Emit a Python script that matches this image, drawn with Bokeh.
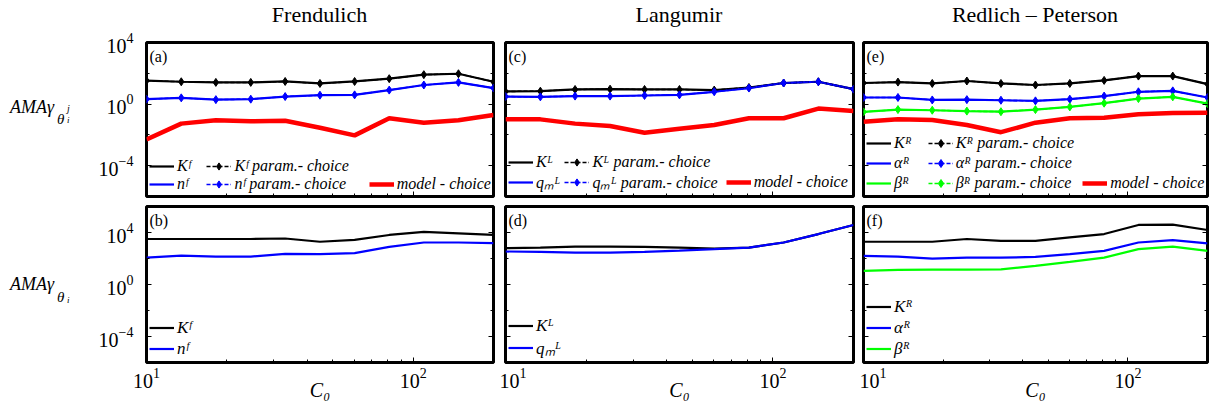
from bokeh.plotting import figure
from bokeh.models import Range1d, FixedTicker, Legend, LegendItem, Label, LogAxis, Div
from bokeh.layouts import column, row
from bokeh.embed import file_html
from bokeh.resources import INLINE

# ---------------- data ----------------
C0 = [10, 13.5, 18.2, 24.6, 33.1, 44.7, 60.3, 81.3, 109.6, 147.8, 200]

# (a) Freundlich, AMA of theta_i^j
KF_a = [33.1, 28.2, 25.7, 25.7, 29.5, 21.9, 29.5, 44.7, 81.3, 93.3, 28.2]
nF_a = [2.09, 2.54, 1.95, 2.09, 3.09, 3.80, 3.98, 8.13, 17.4, 25.7, 11.0]
KF_a_param = KF_a
nF_a_param = nF_a
model_a = [0.0051, 0.054, 0.089, 0.076, 0.083, 0.029, 0.0093, 0.12, 0.062, 0.089, 0.195]

# (c) Langmuir
KL_c = [6.61, 6.92, 8.91, 9.33, 8.91, 8.91, 8.13, 12.0, 23.4, 28.2, 9.33]
qL_c = [3.09, 2.95, 3.31, 3.31, 3.63, 3.98, 6.31, 11.0, 23.4, 28.2, 9.33]
KL_c_param = KL_c
qL_c_param = qL_c
model_c = [0.102, 0.102, 0.054, 0.038, 0.0138, 0.025, 0.044, 0.12, 0.12, 0.51, 0.36]

# (e) Redlich-Peterson
KR_e = [23.4, 26.9, 21.9, 31.6, 21.9, 17.4, 21.9, 34.7, 66.1, 66.1, 20.0]
aR_e = [2.69, 2.69, 1.86, 1.95, 1.78, 1.62, 2.09, 3.31, 6.31, 7.24, 2.69]
bR_e = [0.31, 0.44, 0.40, 0.35, 0.32, 0.44, 0.66, 1.15, 2.29, 2.95, 1.07]
KR_e_param = KR_e
aR_e_param = aR_e
bR_e_param = bR_e
model_e = [0.072, 0.102, 0.093, 0.044, 0.015, 0.062, 0.12, 0.13, 0.22, 0.26, 0.275]

# (b) Freundlich, AMA of theta_i
KF_b = [3160, 3160, 3160, 3160, 3470, 1950, 2750, 6460, 11000, 8510, 6460]
nF_b = [117, 166, 141, 141, 229, 214, 257, 794, 1700, 1700, 1550]

# (d) Langmuir
KL_d = [631, 692, 832, 832, 794, 692, 589, 692, 1700, 7590, 38000]
qL_d = [347, 324, 288, 288, 324, 407, 525, 692, 1700, 7590, 38000]

# (f) Redlich-Peterson
KR_f = [1950, 1950, 1950, 3160, 2290, 2290, 4170, 7590, 38000, 39800, 15500]
aR_f = [158, 141, 98, 117, 117, 132, 214, 389, 1700, 2630, 1450]
bR_f = [11.0, 13.2, 13.8, 13.8, 14.8, 26.9, 55.0, 117, 525, 832, 389]

TITLES = ["Frendulich", "Langumir", "Redlich \u2013 Peterson"]
TOP_TAGS = ["(a)", "(c)", "(e)"]
BOT_TAGS = ["(b)", "(d)", "(f)"]
X_TITLE = "C\u2080"

SERIF = "Liberation Serif"
BLACK, BLUE, GREEN, RED = "#000000", "#0000ff", "#00ff00", "#ff0000"

TOP_YR = (1e-6, 1e4)
BOT_YR = (1e-6, 1e6)
Y_MAJOR = [1e-4, 1, 1e4]
TOP_MINOR = [1e-6, 1e-2, 1e2]
BOT_MINOR = [1e-6, 1e-2, 1e2, 1e6]
X_MAJOR = [10, 100]
X_MINOR = [20, 30, 40, 50, 60, 70, 80, 90, 200]

TITLE_H = 28
LABEL_W = 90
LEFTS = [56, 6, 4]
RIGHTS = [6, 6, 2]
FWS = [347, 348, 344]
TOP_H = (14, 154, 5)
BOT_H = (5, 156, 43)
PADS = [(4, 5), (1, 2), (4, 2)]


def base(col, top):
    bt, fh, bb = TOP_H if top else BOT_H
    p = figure(x_axis_type="log", y_axis_type="log",
               x_range=Range1d(10, 200),
               y_range=Range1d(*(TOP_YR if top else BOT_YR)),
               frame_width=FWS[col], frame_height=fh,
               min_border_left=LEFTS[col], min_border_right=RIGHTS[col],
               min_border_top=bt, min_border_bottom=bb,
               output_backend="svg", toolbar_location=None)
    p.grid.visible = False
    p.outline_line_color = "black"
    p.outline_line_width = 3
    p.outline_line_alpha = 1.0
    p.add_layout(LogAxis(), "right")
    for ax in p.yaxis:
        ax.ticker = FixedTicker(ticks=Y_MAJOR, minor_ticks=TOP_MINOR if top else BOT_MINOR)
    for ax in p.xaxis:
        ax.ticker = FixedTicker(ticks=X_MAJOR, minor_ticks=X_MINOR)
    for ax in p.axis:
        ax.axis_line_color = None
        ax.major_tick_in = 5
        ax.major_tick_out = 0
        ax.minor_tick_in = 3
        ax.minor_tick_out = 0
        ax.major_tick_line_color = "black"
        ax.minor_tick_line_color = "black"
        ax.major_label_text_font = SERIF
        ax.major_label_text_color = "black"
        ax.major_label_text_font_size = "1px"
        ax.major_label_text_alpha = 0
        ax.major_label_standoff = 0
    if col == 0:
        ax = p.left[0]
        ax.major_label_text_font_size = "20px"
        ax.major_label_text_alpha = 1
        ax.major_label_standoff = 13
    if not top:
        ax = p.below[0]
        ax.major_label_text_font_size = "20px"
        ax.major_label_text_alpha = 1
        ax.major_label_standoff = 5
        ax.axis_label = X_TITLE
        ax.axis_label_text_font = SERIF
        ax.axis_label_text_font_style = "italic"
        ax.axis_label_text_font_size = "20px"
        ax.axis_label_text_color = "black"
        ax.axis_label_standoff = -12
    tag = (TOP_TAGS if top else BOT_TAGS)[col]
    p.add_layout(Label(x=3, y=fh - 14, x_units="screen", y_units="screen", text=tag,
                       text_font=SERIF, text_font_size="16px", text_baseline="middle",
                       text_color="black"))
    return p


def solid(p, y, color, width=2.2):
    return p.line(C0, y, line_color=color, line_width=width)


def param(p, y, color):
    l = p.line(C0, y, line_color=color, line_width=1.5, line_dash="4 2")
    s = p.scatter(C0, y, marker="diamond", size=8, fill_color=color, line_color=color)
    return [l, s]


def legend(p, items, nrows, size="16px", lh=18):
    leg = Legend(items=items, location="bottom_left", nrows=nrows,
                 label_text_font=SERIF, label_text_font_style="italic",
                 label_text_font_size=size, label_text_color="black",
                 label_height=lh, glyph_height=lh, glyph_width=25,
                 label_standoff=3, spacing=0, padding=4, margin=3,
                 border_line_color=None, background_fill_alpha=0)
    p.add_layout(leg)


NB = "\u00a0"


def top_panel(col, series, params, model):
    p = base(col, True)
    pad1, pad2 = PADS[col]
    rs = [solid(p, y, c) for (y, c, _) in series]
    ps = [param(p, y, c) for (y, c, _) in params]
    rm = p.line(C0, model, line_color=RED, line_width=4.5)
    dummy = p.line(C0, model, line_alpha=0)
    items = [LegendItem(label=lab + NB * pad1, renderers=[r]) for r, (_, _, lab) in zip(rs, series)]
    items += [LegendItem(label=lab + NB * pad2, renderers=r) for r, (_, _, lab) in zip(ps, params)]
    n = len(series)
    items += [LegendItem(label=NB, renderers=[dummy]) for _ in range(n - 1)]
    items += [LegendItem(label="model - choice", renderers=[rm])]
    legend(p, items, n, lh=18 if n == 2 else 20)
    return p


def bottom_panel(col, series):
    p = base(col, False)
    rs = [solid(p, y, c) for (y, c, _) in series]
    items = [LegendItem(label=lab, renderers=[r]) for r, (_, _, lab) in zip(rs, series)]
    legend(p, items, len(series), size="17px", lh=21)
    return p


pa = top_panel(0, [(KF_a, BLACK, "K\u1da0"), (nF_a, BLUE, "n\u1da0")],
               [(KF_a_param, BLACK, "K\u1da0 param.- choice"), (nF_a_param, BLUE, "n\u1da0 param.- choice")],
               model_a)
pc = top_panel(1, [(KL_c, BLACK, "K\u1d38"), (qL_c, BLUE, "q\u2098\u1d38")],
               [(KL_c_param, BLACK, "K\u1d38 param.- choice"), (qL_c_param, BLUE, "q\u2098\u1d38 param.- choice")],
               model_c)
pe = top_panel(2, [(KR_e, BLACK, "K\u1d3f"), (aR_e, BLUE, "\u03b1\u1d3f"), (bR_e, GREEN, "\u03b2\u1d3f")],
               [(KR_e_param, BLACK, "K\u1d3f param.- choice"), (aR_e_param, BLUE, "\u03b1\u1d3f param.- choice"),
                (bR_e_param, GREEN, "\u03b2\u1d3f param.- choice")],
               model_e)
pb = bottom_panel(0, [(KF_b, BLACK, "K\u1da0"), (nF_b, BLUE, "n\u1da0")])
pd = bottom_panel(1, [(KL_d, BLACK, "K\u1d38"), (qL_d, BLUE, "q\u2098\u1d38")])
pf = bottom_panel(2, [(KR_f, BLACK, "K\u1d3f"), (aR_f, BLUE, "\u03b1\u1d3f"), (bR_f, GREEN, "\u03b2\u1d3f")])


def span(txt, left, top, size, italic=True, extra=""):
    st = "italic" if italic else "normal"
    return (f'<span style="position:absolute;left:{left}px;top:{top}px;font-size:{size}px;'
            f'line-height:1;font-style:{st};white-space:nowrap;{extra}">{txt}</span>')


def text_div(w, h, parts):
    html = (f'<div style="position:relative;width:{w}px;height:{h}px;'
            f'font-family:\'Liberation Serif\',serif;color:black;">' + "".join(parts) + "</div>")
    return Div(text=html, width=w, height=h, margin=0)


# frame left edges in page pixels, for centring the column titles
frame_lefts = []
x = LABEL_W
for i in range(3):
    x += LEFTS[i]
    frame_lefts.append(x)
    x += FWS[i] + RIGHTS[i]
total_w = x + 2

title_div = text_div(total_w, TITLE_H, [
    span(t, frame_lefts[i], 4, 22, italic=False,
         extra=f"width:{FWS[i]}px;text-align:center;")
    for i, t in enumerate(TITLES)])

top_h = sum(TOP_H)
bot_h = sum(BOT_H)
div_top = text_div(LABEL_W, top_h, [span("AMA\u03b3", 10, 70, 18), span("\u03b8", 57, 84, 15),
                                    span("j", 67, 76, 10), span("i", 67, 88, 9)])
div_bot = text_div(LABEL_W, bot_h, [span("AMA\u03b3", 10, 74, 18), span("\u03b8", 57, 89, 15),
                                    span("i", 67, 95, 9)])

grid = column(row(pa, pc, pe, spacing=0), row(pb, pd, pf, spacing=0), spacing=0)
body = row(column(div_top, div_bot, spacing=0), grid, spacing=0)
layout = column(title_div, body, spacing=0)
open("out.html", "w").write(file_html(layout, INLINE))
